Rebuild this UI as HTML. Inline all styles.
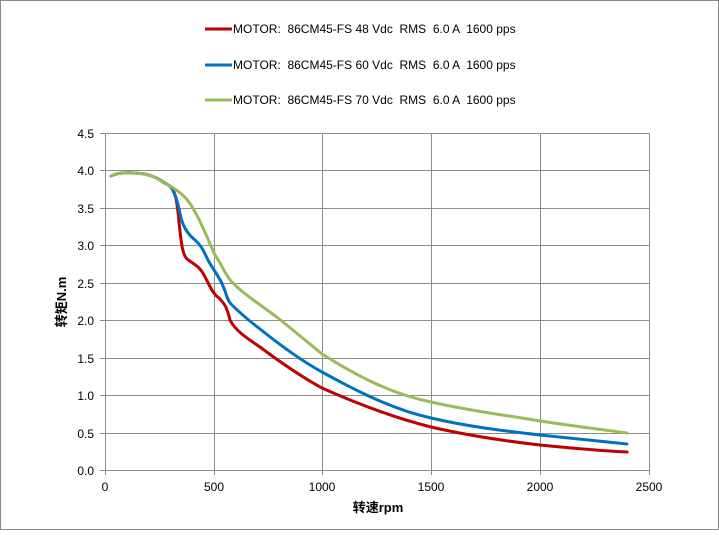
<!DOCTYPE html>
<html><head><meta charset="utf-8"><style>body{margin:0;background:#fff}text{white-space:pre}</style></head><body>
<svg width="719" height="530" xmlns="http://www.w3.org/2000/svg" font-family="Liberation Sans, Noto Sans CJK SC, sans-serif">
<rect x="0.5" y="0.5" width="718" height="529" fill="#fff" stroke="#888"/>
<g stroke="#8c8c8c" stroke-width="1">
<line x1="105" y1="133.5" x2="649" y2="133.5"/><line x1="105" y1="170.5" x2="649" y2="170.5"/>
<line x1="105" y1="208.5" x2="649" y2="208.5"/><line x1="105" y1="245.5" x2="649" y2="245.5"/>
<line x1="105" y1="283.5" x2="649" y2="283.5"/><line x1="105" y1="320.5" x2="649" y2="320.5"/>
<line x1="105" y1="358.5" x2="649" y2="358.5"/><line x1="105" y1="395.5" x2="649" y2="395.5"/>
<line x1="105" y1="433.5" x2="649" y2="433.5"/><line x1="100" y1="470.5" x2="649" y2="470.5"/>
<line x1="105.5" y1="133" x2="105.5" y2="475"/><line x1="214.5" y1="133" x2="214.5" y2="475"/>
<line x1="322.5" y1="133" x2="322.5" y2="475"/><line x1="431.5" y1="133" x2="431.5" y2="475"/>
<line x1="540.5" y1="133" x2="540.5" y2="475"/><line x1="649.5" y1="133" x2="649.5" y2="475"/>
<line x1="100" y1="133.5" x2="105" y2="133.5"/><line x1="100" y1="170.5" x2="105" y2="170.5"/><line x1="100" y1="208.5" x2="105" y2="208.5"/><line x1="100" y1="245.5" x2="105" y2="245.5"/><line x1="100" y1="283.5" x2="105" y2="283.5"/><line x1="100" y1="320.5" x2="105" y2="320.5"/><line x1="100" y1="358.5" x2="105" y2="358.5"/><line x1="100" y1="395.5" x2="105" y2="395.5"/><line x1="100" y1="433.5" x2="105" y2="433.5"/>
</g>
<g font-size="12" fill="#000" text-anchor="end">
<text x="94" y="138">4.5</text><text x="94" y="175">4.0</text><text x="94" y="213">3.5</text><text x="94" y="250">3.0</text><text x="94" y="288">2.5</text><text x="94" y="325">2.0</text><text x="94" y="363">1.5</text><text x="94" y="400">1.0</text><text x="94" y="438">0.5</text><text x="94" y="475">0.0</text>
</g>
<g font-size="12" fill="#000" text-anchor="middle">
<text x="105" y="491">0</text><text x="214" y="491">500</text><text x="322" y="491">1000</text><text x="431" y="491">1500</text><text x="540" y="491">2000</text><text x="649" y="491">2500</text>
</g>
<text x="378" y="512" font-size="13" font-weight="bold" text-anchor="middle">转速rpm</text>
<text transform="translate(66,302) rotate(-90)" font-size="13" font-weight="bold" text-anchor="middle">转矩N.m</text>
<g fill="none" stroke-width="3" stroke-linejoin="round" stroke-linecap="round">
<path stroke="#c00000" d="M111,176 C118,172 130,172 145,174 C158,177 162,182 170,186 C175,190 177,200 179,222 C181,240 182,254 187,259 C195,265 199,266 204,275 C209,284 212,293 219,298 C225,304 227,308 230,320 C235,330 245,337 260,347 C280,362 300,376 322,388 C360,405 395,418 431,427 C470,436 505,441 540,445 C580,449 605,451 627,452"/>
<path stroke="#0070c0" d="M111,176 C118,172 130,172 145,174 C158,177 162,182 170,186 C175,192 178,203 181,218 C184,229 189,235 195,240 C202,246 204,252 209,262 C215,272 220,278 223,286 C227,295 227,300 231,304 C239,312 248,320 260,329 C280,345 300,360 322,372 C360,393 395,410 431,418 C470,427 505,431 540,435 C580,439 605,442 627,444"/>
<path stroke="#9bbb59" d="M111,176 C118,172 130,172 145,174 C158,177 162,183 170,186 C180,192 188,198 195,212 C203,226 208,240 215,255 C222,265 225,274 231,281 C242,293 258,303 278,318 C293,330 305,340 322,354 C360,378 395,395 431,402 C470,411 505,415 540,421 C580,427 605,430 627,433"/>
</g>
<g font-size="12" fill="#000">
<line x1="205" y1="29" x2="232" y2="29" stroke="#c00000" stroke-width="3"/><text x="233" y="33">MOTOR:  86CM45-FS 48 Vdc  RMS  6.0 A  1600 pps</text>
<line x1="205" y1="65" x2="232" y2="65" stroke="#0070c0" stroke-width="3"/><text x="233" y="69">MOTOR:  86CM45-FS 60 Vdc  RMS  6.0 A  1600 pps</text>
<line x1="205" y1="100" x2="232" y2="100" stroke="#9bbb59" stroke-width="3"/><text x="233" y="104">MOTOR:  86CM45-FS 70 Vdc  RMS  6.0 A  1600 pps</text>
</g>
</svg>
</body></html>
